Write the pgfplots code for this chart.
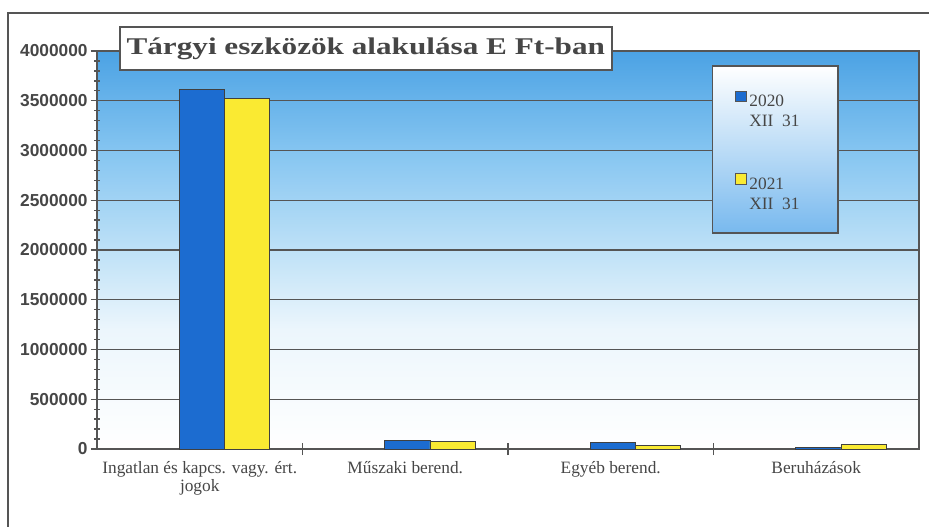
\documentclass[border=0pt]{standalone}
\usepackage{fontspec}
\setmainfont{Liberation Serif}
\newfontfamily\tickfont{Liberation Sans}
\newfontfamily\titlefont{Liberation Serif}[FakeStretch=1.3]
\usepackage{pgfplots}
\pgfplotsset{compat=1.18}
\definecolor{bgA}{RGB}{236,246,252}
\definecolor{bgB}{RGB}{190,225,247}
\definecolor{bgC}{RGB}{135,198,241}
\definecolor{bgD}{RGB}{75,162,228}
\definecolor{axgray}{RGB}{85,85,85}
\definecolor{txtgray}{RGB}{70,70,70}
\definecolor{barblue}{RGB}{28,108,208}
\definecolor{baryel}{RGB}{250,234,50}
\definecolor{legblue}{RGB}{120,185,238}
\pgfdeclareverticalshading{plotbg}{100bp}{color(0bp)=(white); color(25bp)=(white); color(40bp)=(bgA); color(50bp)=(bgB); color(62bp)=(bgC); color(75bp)=(bgD); color(100bp)=(bgD)}
\pgfplotsset{
  sqlegend/.style={legend image code/.code={\draw[##1, line width=0.6pt, draw=axgray] (0pt,-1pt) rectangle (8pt,7pt);}},
  sqlegendB/.style={legend image code/.code={\draw[##1, line width=0.6pt, draw=axgray] (0pt,-1pt) rectangle (8pt,7pt); \path (0pt,-19pt);}}
}
\begin{document}
\begin{tikzpicture}
\useasboundingbox (-72.75pt,-57.75pt) rectangle (624pt,336.75pt);
\draw[axgray, line width=1.5pt] (-66.75pt,-60pt) -- (-66.75pt,327pt) -- (626pt,327pt);
\begin{axis}[
  at={(0,0)}, anchor=south west,
  scale only axis, width=616.5pt, height=298.5pt,
  xmin=-0.5, xmax=3.5, ymin=0, ymax=4000000,
  clip=false,
  axis background/.style={shading=plotbg},
  axis line style={axgray, line width=1.3pt},
  ymajorgrids, grid style={axgray, line width=1.1pt},
  ytick={0,500000,1000000,1500000,2000000,2500000,3000000,3500000,4000000},
  minor y tick num=4,
  scaled y ticks=false,
  xtick pos=bottom, ytick pos=left,
  /pgf/number format/assume math mode=true,
  yticklabel style={font=\tickfont\bfseries\fontsize{13}{15}\selectfont, text=txtgray, /pgf/number format/fixed, /pgf/number format/1000 sep={}, xshift=1pt},
  tick style={axgray, line width=1pt},
  tick align=center,
  major tick length=9pt, minor tick length=4pt,
  xtick={0.5,1.5,2.5},
  xticklabels={},
  extra x ticks={0,1,2,3},
  extra x tick labels={{Ingatlan és kapcs. vagy. ért.\\jogok},{Műszaki berend.},{Egyéb berend.},{Beruházások}},
  extra x tick style={tick style={draw=none}},
  xticklabel style={align=center, font=\fontsize{13}{14}\selectfont, text=txtgray, yshift=-1pt},
  legend cell align=left,
  legend style={at={(0.748,0.965)}, anchor=north west, draw=axgray, line width=1.2pt,
    top color=white, middle color=white, bottom color=legblue,
    inner xsep=17pt, inner ysep=18pt, row sep=46pt,
    font=\fontsize{13}{15}\selectfont, text=txtgray},
]
\addplot[ybar, bar width=0.22, bar shift=0.01, draw=black!75, line width=0.6pt,
  fill=barblue, sqlegend]
  coordinates {(0,3610000) (1,90000) (2,67000) (3,20000)};
\addlegendentry{\begin{tabular}[t]{@{}l@{\hspace{10pt}}}2020\\XII\ \ 31\end{tabular}}
\addplot[ybar, bar width=0.22, bar shift=0.23, draw=black!75, line width=0.6pt,
  fill=baryel, sqlegendB]
  coordinates {(0,3520000) (1,73000) (2,40000) (3,45000)};
\addlegendentry{\begin{tabular}[t]{@{}l@{\hspace{10pt}}}2021\\XII\ \ 31\end{tabular}}
\node[draw=axgray, line width=1.5pt, fill=white, minimum width=369pt, minimum height=32pt,
  inner sep=0pt, text=txtgray, font=\titlefont\bfseries\fontsize{18}{20}\selectfont]
  at (rel axis cs:0.327,1.006) {Tárgyi eszközök alakulása E Ft-ban};
\end{axis}
\end{tikzpicture}
\end{document}
